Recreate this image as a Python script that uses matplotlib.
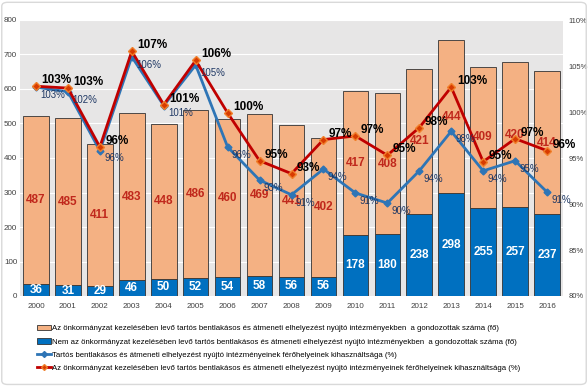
import matplotlib.pyplot as plt
from matplotlib.lines import Line2D
from matplotlib.patches import Patch, FancyBboxPatch

plt.rcParams['font.family'] = ['Liberation Sans', 'DejaVu Sans']

years = [str(y) for y in range(2000, 2017)]
# gondozottak száma (fő)
onkorm = [487, 485, 411, 483, 448, 486, 460, 469, 441, 402, 417, 408, 421, 444, 409, 420, 414]
nem_onkorm = [36, 31, 29, 46, 50, 52, 54, 58, 56, 56, 178, 180, 238, 298, 255, 257, 237]
# férőhely-kihasználtság (%)
kihaszn_ossz = [102.7, 102.2, 95.8, 106.0, 100.7, 105.1, 96.2, 92.6, 91.0, 93.8, 91.2, 90.1, 93.6, 97.9, 93.6, 94.7, 91.3]
kihaszn_onkorm = [102.8, 102.6, 96.2, 106.6, 100.8, 105.6, 99.9, 94.7, 93.3, 97.0, 97.4, 95.3, 98.3, 102.7, 94.6, 97.1, 95.8]

c_orange = '#F4B183'
c_blue = '#0070C0'
c_line_blue = '#2E75B6'
c_line_red = '#C00000'
c_lbl_red = '#C0281C'

fig = plt.figure(figsize=(5.88, 3.86), dpi=100)
ax = fig.add_axes([20 / 588, 1 - 296 / 386, 543 / 588, 276 / 386])
ax.set_facecolor('#E7E6E6')

x = list(range(len(years)))
ax.bar(x, nem_onkorm, width=0.8, color=c_blue, edgecolor='#333333', linewidth=0.6, zorder=2)
ax.bar(x, onkorm, width=0.8, bottom=nem_onkorm, color=c_orange, edgecolor='#333333',
       linewidth=0.6, zorder=2)

for i in x:
    ax.text(i, nem_onkorm[i] / 2, str(nem_onkorm[i]), ha='center', va='center',
            color='white', fontsize=8.5, fontweight='bold', zorder=3)
    ax.text(i, nem_onkorm[i] + onkorm[i] / 2, str(onkorm[i]), ha='center', va='center',
            color=c_lbl_red, fontsize=8.5, fontweight='bold', zorder=3)

ax.set_xlim(-0.5, 16.5)
ax.set_ylim(0, 800)
ax.set_yticks(range(0, 801, 100))
ax.yaxis.grid(True, color='white', linewidth=0.8, zorder=0)
ax.set_axisbelow(True)
ax.set_xticks(x)
ax.set_xticklabels(years)
ax.tick_params(axis='both', length=0, labelsize=5.8, labelcolor='#404040')
ax.tick_params(axis='y', pad=2)
ax.tick_params(axis='x', pad=5)
for s in ax.spines.values():
    s.set_visible(False)

ax2 = ax.twinx()
ax2.set_ylim(80, 110)
ax2.set_yticks(range(80, 111, 5))
ax2.set_yticklabels([f'{v}%' for v in range(80, 111, 5)])
ax2.tick_params(axis='y', length=0, labelsize=5.5, labelcolor='#404040', pad=4)
for s in ax2.spines.values():
    s.set_visible(False)

ax2.plot(x, kihaszn_ossz, color=c_line_blue, linewidth=2, marker='D', markersize=3.5,
         markerfacecolor=c_line_blue, markeredgecolor=c_line_blue, zorder=4)
ax2.plot(x, kihaszn_onkorm, color=c_line_red, linewidth=2, marker='D', markersize=4,
         markerfacecolor='#D83B01', markeredgecolor='#F07F2A', zorder=5)

for i in x:
    ax2.annotate(f'{round(kihaszn_onkorm[i])}%', (i, kihaszn_onkorm[i]), xytext=(4, 0),
                 textcoords='offset points', ha='left', va='bottom', fontsize=8.5,
                 fontweight='bold', color='black', zorder=6)
    ax2.annotate(f'{round(kihaszn_ossz[i])}%', (i, kihaszn_ossz[i]), xytext=(3, -2),
                 textcoords='offset points', ha='left', va='top', fontsize=7,
                 color='#1F3864', zorder=6)

handles = [
    Patch(facecolor=c_orange, edgecolor='#333333', linewidth=0.6),
    Patch(facecolor=c_blue, edgecolor='#333333', linewidth=0.6),
    Line2D([], [], color=c_line_blue, linewidth=2, marker='D', markersize=3),
    Line2D([], [], color=c_line_red, linewidth=2, marker='D', markersize=3,
           markerfacecolor='#D83B01', markeredgecolor='#F07F2A'),
]
labels = [
    'Az önkormányzat kezelésében levő tartós bentlakásos és átmeneti elhelyezést nyújtó intézményekben  a gondozottak száma (fő)',
    'Nem az önkormányzat kezelésében levő tartós bentlakásos és átmeneti elhelyezést nyújtó intézményekben  a gondozottak száma (fő)',
    'Tartós bentlakásos és átmeneti elhelyezést nyújtó intézményeinek férőhelyeinek kihasználtsága (%)',
    'Az önkormányzat kezelésében levő tartós bentlakásos és átmeneti elhelyezést nyújtó intézményeinek férőhelyeinek kihasználtsága (%)',
]
fig.legend(handles, labels, loc='upper left', bbox_to_anchor=(33 / 588, 1 - 321 / 386),
           frameon=False, fontsize=5.6, handlelength=1.8, handleheight=0.7,
           handletextpad=0.1, labelspacing=0.75, borderpad=0)

fig.patches.append(FancyBboxPatch((0.003, 0.004), 0.994, 0.99, boxstyle='round,pad=0,rounding_size=0.01',
                                  transform=fig.transFigure, facecolor='none',
                                  edgecolor='#D9D9D9', linewidth=1))

fig.savefig('out.png', dpi=100)
